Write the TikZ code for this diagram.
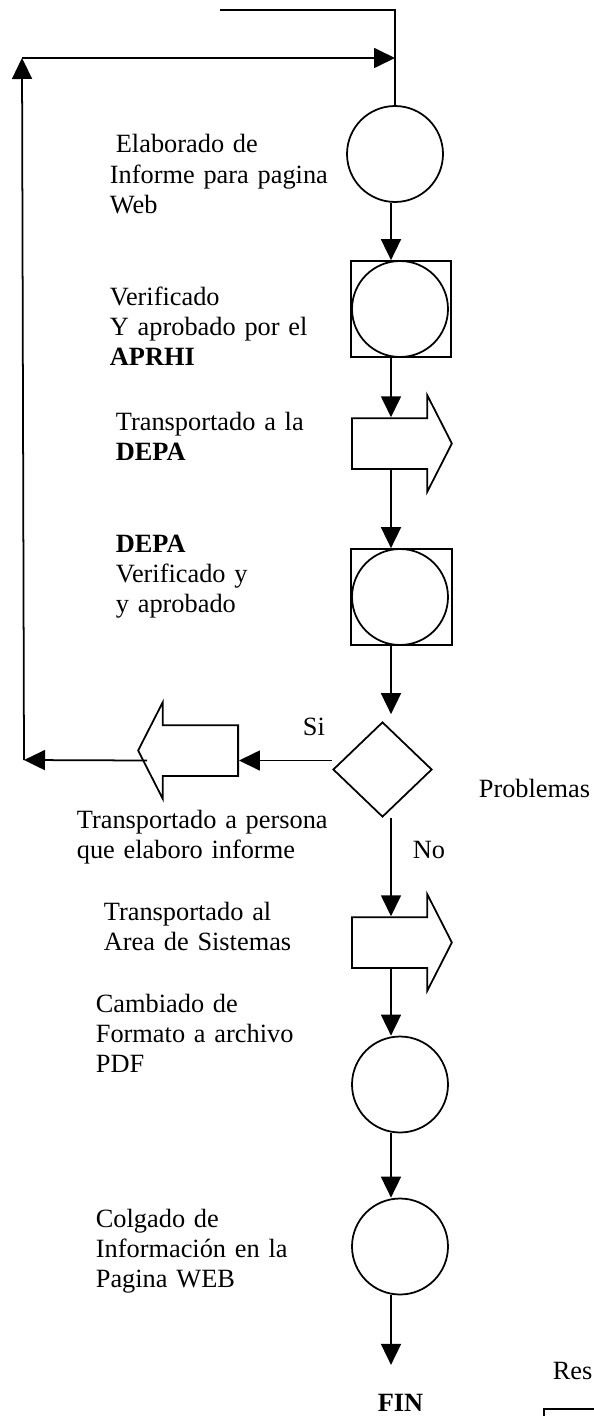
\documentclass[tikz,border=0pt]{standalone}
\usepackage{fontspec}
\setmainfont{Liberation Serif}
\usetikzlibrary{shapes.geometric,shapes.arrows,arrows.meta}

\tikzset{
  flecha/.style={single arrow,minimum height=2cm,inner xsep=0pt,inner ysep=0.49cm,
    single arrow head extend=0.46cm,single arrow tip angle=126},
  paso/.style={circle,minimum size=1.92cm}
}

\begin{document}
\begin{tikzpicture}[x=0.02cm,y=-0.02cm,line width=1pt]

      \useasboundingbox (0,0) rectangle (593,1416);
      \coordinate (eje)  at (391,0);
      \coordinate (ini)  at (220,10);
      \coordinate (esq1) at (24,760);
      \coordinate (esq2) at (22,58);

      \begin{scope}[every node/.style={draw,inner sep=0pt}]
        \node[paso] (1)  at (395,154)  {};
        \node[minimum width=2cm,minimum height=1.92cm] (2) at (401,309) {};
        \node[paso] (2c) at (400,309)  {};
        \node[flecha,anchor=tail] (3) at (351,443.5) {};
        \node[minimum width=2.02cm,minimum height=1.92cm] (4) at (401.5,597) {};
        \node[paso] (4c) at (400,597)  {};
        \node[diamond,minimum width=1.98cm,minimum height=1.9cm] (5) at (382.5,769.5) {};
        \node[flecha,shape border rotate=180,anchor=tail] (6) at (239,750.5) {};
        \node[flecha,anchor=tail] (7) at (351,942.5) {};
        \node[paso] (8)  at (400,1084.5) {};
        \node[paso] (9)  at (400,1246.5) {};
        \node[minimum width=2cm,minimum height=0.8cm,anchor=north west] (10) at (543,1408) {};
      \end{scope}

      \begin{scope}[every node/.style={anchor=base west,inner sep=0pt,text width=6cm,
          align=left,font=\fontsize{15}{17.2}\selectfont}]
        \node (t1)   at (109,153)  {\hspace*{0.12cm}Elaborado de\\Informe para pagina\\Web};
        \node (t2)   at (109,305)  {Verificado\\Y aprobado por el\\\textbf{APRHI}};
        \node (t3)   at (115,430)  {Transportado a la\\\textbf{DEPA}};
        \node (t4)   at (115,552)  {\textbf{DEPA}\\Verificado y\\y aprobado};
        \node (si1)  at (302,735)  {Si};
        \node (prob) at (478,797)  {Problemas};
        \node (t5)   at (76,828)   {Transportado a persona\\que elaboro informe};
        \node (no1)  at (412,858)  {No};
        \node (t6)   at (103,920)  {Transportado al\\Area de Sistemas};
        \node (t7)   at (95,1012)  {Cambiado de\\Formato a archivo\\PDF};
        \node (t8)   at (95,1227)  {Colgado de\\Información en la\\Pagina WEB};
        \node[inner ysep=0.56cm] (fin) at (377,1411) {\textbf{FIN}};
        \node (res)  at (552,1379) {Res};
      \end{scope}

      \coordinate (si) at ([yshift=0.18cm]5.west);

      \draw (ini) -- (1 |- ini) -- (1.north);

      \begin{scope}[every edge/.style={draw,-{Triangle[length=0.42cm,width=0.4cm]}}]
        \path (1.south -| eje) edge (2.north -| eje);
        \path (2.south -| eje) edge (3.north -| eje);
        \path (3.south -| eje) edge (4.north -| eje);
        \path (4.south -| eje) edge[shorten >=0.14cm] (5.north -| eje);
        \path (5.south -| eje) edge (7.north -| eje);
        \path (7.south -| eje) edge (8.north -| eje);
        \path (8.south -| eje) edge (9.north -| eje);
        \path (9.south -| eje) edge (fin.north -| eje);
        \path (si) edge (6.tail |- si);
        \path ([xshift=0.2cm]6.tip |- si) edge (esq1);
        \path (esq1) edge (esq2);
        \path (esq2) edge (1 |- esq2);
      \end{scope}

    \end{tikzpicture}
\end{document}
